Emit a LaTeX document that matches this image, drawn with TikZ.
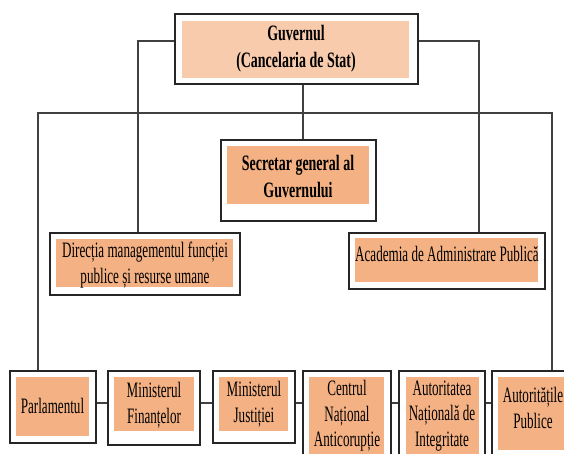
\documentclass[tikz,border=0pt]{standalone}
\usepackage{fontspec}
\newfontfamily\regf[FakeStretch=0.595]{Liberation Serif}
\newfontfamily\boldf[FakeStretch=0.635]{Liberation Serif}
\definecolor{peachlight}{HTML}{F8CBAD}
\definecolor{peach}{HTML}{F4B183}
\tikzset{
  outerbox/.style={draw=black!85, line width=1.3pt, fill=white, inner sep=0pt},
  innerbox/.style={fill=#1, draw=none, inner sep=0pt},
  regtxt/.style={align=center, inner sep=0pt, font=\regf\fontsize{22}{25.5}\selectfont},
  boldtxt/.style={align=center, inner sep=0pt, font=\boldf\bfseries\fontsize{22}{27}\selectfont},
  conn/.style={draw=black!75, line width=1.2pt}
}
\begin{document}
\begin{tikzpicture}[x=1pt,y=-1pt]
\useasboundingbox (0,0) rectangle (564,453);
\clip (0,0) rectangle (564,453);
% top box
\node[outerbox, minimum width=243pt, minimum height=70pt] (top) at (296.5,49) {};
\node[innerbox=peachlight, minimum width=227pt, minimum height=57pt] (topin) at (295.5,49.5) {};
\node[boldtxt] (toptxt) at (296,48.5) {Guvernul\\(Cancelaria de Stat)};
% secretar
\node[outerbox, minimum width=155pt, minimum height=81pt] (sec) at (298.5,180.5) {};
\node[innerbox=peach, minimum width=142pt, minimum height=58pt] (secin) at (298,175) {};
\node[boldtxt] (sectxt) at (298,176) {Secretar general al\\Guvernului};
% directia
\node[outerbox, minimum width=190pt, minimum height=62pt] (dir) at (145,264) {};
\node[innerbox=peach, minimum width=177pt, minimum height=48pt] (dirin) at (144.5,263) {};
\node[regtxt] (dirtxt) at (145,265) {Direcția managementul funcției\\publice și resurse umane};
% academia
\node[outerbox, minimum width=196pt, minimum height=56pt] (acad) at (447,261) {};
\node[innerbox=peach, minimum width=183pt, minimum height=44pt] (acadin) at (446.5,260) {};
\node[regtxt] (acadtxt) at (447,253.5) {Academia de Administrare Publică};
% bottom row
\node[outerbox, minimum width=86pt, minimum height=72pt] (parl) at (53,407) {};
\node[innerbox=peach, minimum width=73pt, minimum height=59pt] (parlin) at (52.5,406.5) {};
\node[regtxt] (parltxt) at (52.5,406) {Parlamentul};

\node[outerbox, minimum width=92pt, minimum height=74pt] (fin) at (154,408) {};
\node[innerbox=peach, minimum width=80pt, minimum height=54pt] (finin) at (154,404) {};
\node[regtxt] (fintxt) at (154,405) {Ministerul\\Finanțelor};

\node[outerbox, minimum width=82pt, minimum height=72pt] (jus) at (254,407) {};
\node[innerbox=peach, minimum width=69pt, minimum height=54pt] (jusin) at (253.5,404) {};
\node[regtxt] (justxt) at (254,404) {Ministerul\\Justiției};

\node[outerbox, minimum width=88pt, minimum height=99pt] (cna) at (347,420.5) {};
\node[innerbox=peach, minimum width=75pt, minimum height=88pt] (cnain) at (346.5,421) {};
\node[regtxt] (cnatxt) at (347,416) {Centrul\\Național\\Anticorupție};

\node[outerbox, minimum width=86pt, minimum height=99pt] (ani) at (442,420.5) {};
\node[innerbox=peach, minimum width=73pt, minimum height=88pt] (aniin) at (442.5,421) {};
\node[regtxt] (anitxt) at (442,416) {Autoritatea\\Națională de\\Integritate};

\node[outerbox, minimum width=120pt, minimum height=99pt] (autp) at (552,420.5) {};
\node[innerbox=peach, minimum width=108pt, minimum height=73pt] (autpin) at (552,413.5) {};
\node[regtxt] (autptxt) at (533,408) {Autoritățile\\Publice};

% connectors
\coordinate (bus) at (303,113);
\coordinate (chain) at (0,403);
\draw[conn] ([yshift=8pt]top.west) -| ([xshift=-7pt]dir.north);
\draw[conn] ([yshift=8pt]top.east) -| ([xshift=32pt]acad.north);
\draw[conn] ([xshift=6.5pt]top.south) -- ([xshift=4.5pt]sec.north);
\draw[conn] ([xshift=-15pt]parl.north) |- (bus) -| (autp.north);
\draw[conn] (parl.east |- chain) -- (fin.west |- chain);
\draw[conn] (fin.east |- chain) -- (jus.west |- chain);
\draw[conn] (jus.east |- chain) -- (cna.west |- chain);
\draw[conn] (cna.east |- chain) -- (ani.west |- chain);
\draw[conn] (ani.east |- chain) -- (autp.west |- chain);
\end{tikzpicture}
\end{document}
